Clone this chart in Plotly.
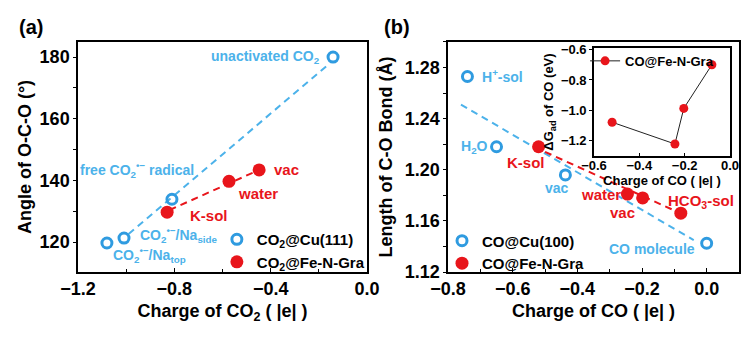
import plotly.graph_objects as go

# ---------------- data ----------------
# panel (a)
a_cu_x = [-0.141, -0.81, -1.009, -1.08]
a_cu_y = [180.0, 133.9, 121.3, 119.7]
a_cu_lbl = ["unactivated CO<sub>2</sub>", "free CO<sub>2</sub><sup>•−</sup> radical",
            "CO<sub>2</sub><sup>•−</sup>/Na<sub>side</sub>", "CO<sub>2</sub><sup>•−</sup>/Na<sub>top</sub>"]
a_fe_x = [-0.83, -0.573, -0.448]
a_fe_y = [129.7, 139.7, 143.4]
a_fe_lbl = ["K-sol", "water", "vac"]
a_fit_cu_x = [-0.99, -0.16]
a_fit_cu_y = [122.6, 177.6]
a_fit_fe_x = [-0.82, -0.46]
a_fit_fe_y = [130.4, 143.0]

# panel (b)
b_cu_x = [-0.74, -0.65, -0.437, 0.0]
b_cu_y = [1.273, 1.218, 1.196, 1.1425]
b_cu_lbl = ["H<sup>+</sup>-sol", "H<sub>2</sub>O", "vac", "CO molecule"]
b_fe_x = [-0.52, -0.245, -0.198, -0.08]
b_fe_y = [1.218, 1.181, 1.178, 1.166]
b_fe_lbl = ["K-sol", "water", "vac", "HCO<sub>3</sub>-sol"]
b_fit_cu_x = [-0.76, -0.04]
b_fit_cu_y = [1.251, 1.145]
b_fit_fe_x = [-0.50, -0.09]
b_fit_fe_y = [1.214, 1.167]

# inset
in_x = [-0.52, -0.243, -0.204, -0.08]
in_y = [-1.078, -1.221, -0.987, -0.70]

BLUE = "#2f9be0"
BLUE_T = "#4cb2ea"
RED = "#e8151b"
FONT = "Liberation Sans"

fig = go.Figure()

# ---- panel (a)
fig.add_trace(go.Scatter(x=a_fit_cu_x, y=a_fit_cu_y, mode="lines",
                         line=dict(color=BLUE_T, width=2, dash="7px,5px"),
                         showlegend=False, xaxis="x", yaxis="y"))
fig.add_trace(go.Scatter(x=a_fit_fe_x, y=a_fit_fe_y, mode="lines",
                         line=dict(color=RED, width=2, dash="7px,5px"),
                         showlegend=False, xaxis="x", yaxis="y"))
fig.add_trace(go.Scatter(x=a_cu_x, y=a_cu_y, mode="markers", name="CO<sub>2</sub>@Cu(111)",
                         marker=dict(symbol="circle-open", size=10, color=BLUE, line=dict(width=3)),
                         xaxis="x", yaxis="y", legend="legend"))
fig.add_trace(go.Scatter(x=a_fe_x, y=a_fe_y, mode="markers", name="CO<sub>2</sub>@Fe-N-Gra",
                         marker=dict(symbol="circle", size=13, color=RED),
                         xaxis="x", yaxis="y", legend="legend"))

# ---- panel (b)
fig.add_trace(go.Scatter(x=b_fit_cu_x, y=b_fit_cu_y, mode="lines",
                         line=dict(color=BLUE_T, width=2, dash="7px,5px"),
                         showlegend=False, xaxis="x2", yaxis="y2"))
fig.add_trace(go.Scatter(x=b_fit_fe_x, y=b_fit_fe_y, mode="lines",
                         line=dict(color=RED, width=2, dash="7px,5px"),
                         showlegend=False, xaxis="x2", yaxis="y2"))
fig.add_trace(go.Scatter(x=b_cu_x, y=b_cu_y, mode="markers", name="CO@Cu(100)",
                         marker=dict(symbol="circle-open", size=10, color=BLUE, line=dict(width=3)),
                         xaxis="x2", yaxis="y2", legend="legend2"))
fig.add_trace(go.Scatter(x=b_fe_x, y=b_fe_y, mode="markers", name="CO@Fe-N-Gra",
                         marker=dict(symbol="circle", size=13, color=RED),
                         xaxis="x2", yaxis="y2", legend="legend2"))

# ---- inset
fig.add_trace(go.Scatter(x=in_x, y=in_y, mode="lines+markers", name="CO@Fe-N-Gra",
                         line=dict(color="#222222", width=1),
                         marker=dict(symbol="circle", size=9, color=RED),
                         xaxis="x3", yaxis="y3", legend="legend3"))

tickfont = dict(family=FONT, size=18, color="black", weight="bold")
titlefont = dict(family=FONT, size=18, color="black", weight="bold")
small_tick = dict(family=FONT, size=13, color="black", weight="bold")
small_title = dict(family=FONT, size=13, color="black", weight="bold")

def ax(domain, rng, dtick, anchor, fmt, tf=tickfont, ttl=None, ttf=titlefont, standoff=8,
       minor=True, tl=4, tdir="outside", tls=0):
    d = dict(domain=domain, range=rng, dtick=dtick, tick0=0, anchor=anchor, tickformat=fmt,
             automargin=False, ticklabelstandoff=tls,
             showline=True, mirror=True, linecolor="black", linewidth=1.5,
             ticks=tdir, ticklen=tl, tickwidth=1.2, tickcolor="black",
             showgrid=False, zeroline=False, tickfont=tf)
    if minor:
        d["minor"] = dict(ticks=tdir, ticklen=3, tickcolor="black", dtick=dtick / 2, tickwidth=1)
    if ttl is not None:
        d["title"] = dict(text=ttl, font=ttf, standoff=standoff)
    return d

fig.update_layout(
    width=753, height=340,
    margin=dict(l=0, r=0, t=0, b=0, autoexpand=False),
    paper_bgcolor="white", plot_bgcolor="white",
    xaxis=ax([0.1036, 0.4874], [-1.2, 0.0], 0.4, "y", ".1f", ttl="Charge of CO<sub>2</sub> ( |e| )",
             standoff=6, tdir="inside"),
    yaxis=ax([0.2, 0.8765], [110.3, 184.9], 20, "x", "d", ttl="Angle of O-C-O (°)", standoff=3, tl=3),
    xaxis2=ax([0.595, 0.9814], [-0.8, 0.1], 0.2, "y2", ".1f", ttl="Charge of CO ( |e| )",
              standoff=6, tdir="inside"),
    yaxis2=ax([0.2, 0.8765], [1.12, 1.30], 0.04, "x2", ".2f", ttl="Length of C-O Bond (Å)", standoff=7, tl=3),
    xaxis3=ax([0.7888, 0.9695], [-0.6, 0.0], 0.2, "y3", ".1f", tf=small_tick, ttl="Charge of CO ( |e| )",
              ttf=small_title, standoff=0, minor=False, tl=3, tdir="inside", tls=-3),
    yaxis3=ax([0.5412, 0.8588], [-1.30, -0.59], 0.2, "x3", ".1f", tf=small_tick,
              ttl="ΔG<sub>ad</sub> of CO (eV)", ttf=small_title,
              standoff=4, minor=False, tl=3),
    legend=dict(x=0.288, y=0.344, xanchor="left", yanchor="top", bgcolor="rgba(0,0,0,0)",
                font=dict(family=FONT, size=15, color="black", weight="bold"),
                itemwidth=30, tracegroupgap=0),
    legend2=dict(x=0.587, y=0.34, xanchor="left", yanchor="top", bgcolor="rgba(0,0,0,0)",
                 font=dict(family=FONT, size=15, color="black", weight="bold"),
                 itemwidth=30, tracegroupgap=0),
    legend3=dict(x=0.777, y=0.865, xanchor="left", yanchor="top", bgcolor="rgba(0,0,0,0)",
                 font=dict(family=FONT, size=13, color="black", weight="bold"),
                 itemwidth=30),
    showlegend=True,
)

annots = []
# panel labels
annots.append(dict(text="(a)", x=0.022, y=0.92, xref="paper", yref="paper", showarrow=False,
                   xanchor="left", yanchor="middle", font=dict(family=FONT, size=20, color="black", weight="bold")))
annots.append(dict(text="(b)", x=0.507, y=0.92, xref="paper", yref="paper", showarrow=False,
                   xanchor="left", yanchor="middle", font=dict(family=FONT, size=20, color="black", weight="bold")))

lblfont_b = dict(family=FONT, size=14, color=BLUE_T, weight="bold")
lblfont_r = dict(family=FONT, size=15, color=RED, weight="bold")

# panel (a) labels: offsets in pixels
a_cu_off = [(-11, 0, "right"), (24, 29, "right"), (14, 3, "left"), (4, -12, "left")]
for xv, yv, t, (dx, dy, anc) in zip(a_cu_x, a_cu_y, a_cu_lbl, a_cu_off):
    annots.append(dict(text=t, x=xv, y=yv, xref="x", yref="y", showarrow=False, xshift=dx, yshift=dy,
                       xanchor=anc, yanchor="middle", font=lblfont_b))
a_fe_off = [(21, -3, "left"), (7, -12, "left"), (13, 0, "left")]
for xv, yv, t, (dx, dy, anc) in zip(a_fe_x, a_fe_y, a_fe_lbl, a_fe_off):
    annots.append(dict(text=t, x=xv, y=yv, xref="x", yref="y", showarrow=False, xshift=dx, yshift=dy,
                       xanchor=anc, yanchor="middle", font=lblfont_r))

# panel (b) labels
b_cu_off = [(13, 0, "left"), (-7, 0, "right"), (6, -13, "right"), (-10, -6, "right")]
for xv, yv, t, (dx, dy, anc) in zip(b_cu_x, b_cu_y, b_cu_lbl, b_cu_off):
    annots.append(dict(text=t, x=xv, y=yv, xref="x2", yref="y2", showarrow=False, xshift=dx, yshift=dy,
                       xanchor=anc, yanchor="middle", font=lblfont_b))
b_fe_off = [(-34, -16, "left"), (-4, 0, "right"), (-6, -15, "right"), (-15, 12, "left")]
for xv, yv, t, (dx, dy, anc) in zip(b_fe_x, b_fe_y, b_fe_lbl, b_fe_off):
    annots.append(dict(text=t, x=xv, y=yv, xref="x2", yref="y2", showarrow=False, xshift=dx, yshift=dy,
                       xanchor=anc, yanchor="middle", font=lblfont_r))

fig.update_layout(annotations=annots)
fig.write_html("out.html")
